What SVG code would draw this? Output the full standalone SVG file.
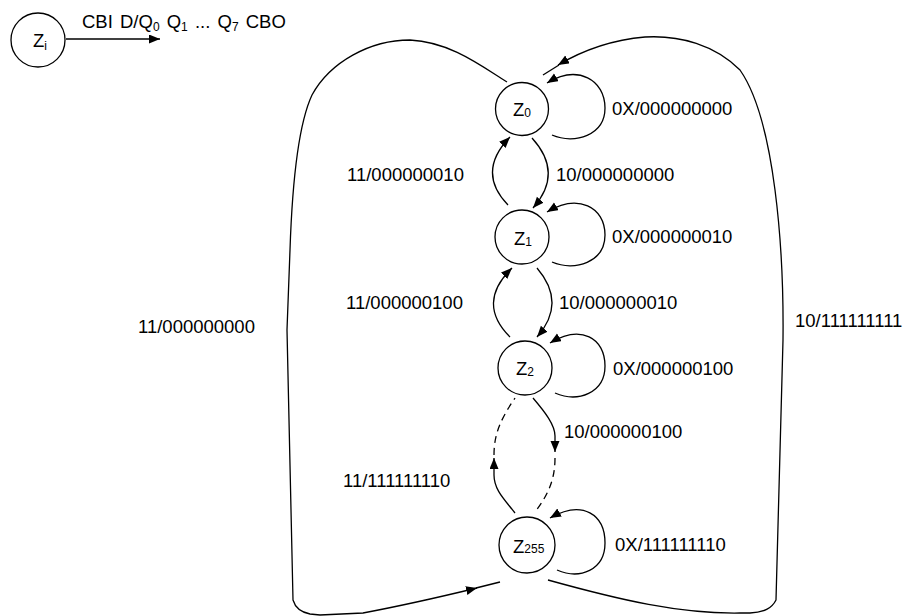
<svg xmlns="http://www.w3.org/2000/svg" width="915" height="616" viewBox="0 0 915 616">
<style>
.n{fill:#fff;stroke:#000;stroke-width:1.3}
.e{fill:none;stroke:#000;stroke-width:1.3}
.d{fill:none;stroke:#000;stroke-width:1.3;stroke-dasharray:7 5}
text{font-family:"Liberation Sans",Arial,sans-serif;font-size:18.5px;fill:#000}
.s{font-size:12px}
</style>
<defs>
<marker id="a" markerUnits="userSpaceOnUse" markerWidth="12" markerHeight="10" refX="11" refY="4.5" orient="auto">
<path d="M0,0 L11,4.5 L0,9 z" fill="#000"/>
</marker>
</defs>
<rect width="915" height="616" fill="#fff"/>
<g id="connectors">
<path class="e" d="M66 39 L160 39" marker-end="url(#a)"/>
<path class="e" d="M532 138 Q564 173 533 208" marker-end="url(#a)"/>
<path class="e" d="M508 205 Q476 172 510 137" marker-end="url(#a)"/>
<path class="e" d="M537 268 Q567 303 537 337" marker-end="url(#a)"/>
<path class="e" d="M510 337 Q476 303 512 268" marker-end="url(#a)"/>
<path class="e" d="M533 398 C545 412 555 425 555 436 L555 452" marker-end="url(#a)"/>
<path class="d" d="M555 458 C555 480 548 495 535 512"/>
<path class="e" d="M515 513 C505 500 494 490 494 475 L494 458" marker-end="url(#a)"/>
<path class="d" d="M494 455 C494 435 500 420 515 398"/>
<path class="e" transform="translate(522,109)" d="M30 26 C53 36 83 26 83 -1 C83 -29 56 -45 25 -26" marker-end="url(#a)"/>
<path class="e" transform="translate(522,237)" d="M30 25 C53 35 83 25 83 -2 C83 -30 56 -44 25 -25" marker-end="url(#a)"/>
<path class="e" transform="translate(525,368)" d="M30 25 C53 35 80 25 80 -2 C80 -30 56 -44 25 -25" marker-end="url(#a)"/>
<path class="e" transform="translate(527,545)" d="M30 25 C53 35 78 25 78 -2 C78 -30 56 -46 23 -27" marker-end="url(#a)"/>
<path class="e" d="M507 82 C480 65 450 42 410 40 C370 40 330 62 312 95 C298 125 292 190 290 250 L287 330 L293 600 C295 607 300 612 310 614 L320 615 L363 613 C400 606 440 597 477 588" marker-end="url(#a)"/>
<path class="e" d="M476 588 L500 582"/>
<path class="e" d="M548 580 C620 600 680 614 740 613 L750 613 C765 612 772 608 776 600 L783 340 C784 250 775 120 740 70 C715 45 680 35 645 37 C610 40 580 52 558 65" marker-end="url(#a)"/>
<path class="e" d="M559 65 L543 75"/>
</g>
<g id="Zi"><circle class="n" cx="38" cy="40" r="27"/><text x="33" y="47">Z<tspan class="s" dy="3">i</tspan></text></g>
<g id="Z0"><circle class="n" cx="522" cy="109" r="26.5"/><text x="513" y="116">Z<tspan class="s" dy="1">0</tspan></text></g>
<g id="Z1"><circle class="n" cx="522" cy="237" r="27"/><text x="514" y="245">Z<tspan class="s" dy="1">1</tspan></text></g>
<g id="Z2"><circle class="n" cx="525" cy="368" r="27"/><text x="516" y="375">Z<tspan class="s" dy="1">2</tspan></text></g>
<g id="Z255"><circle class="n" cx="527" cy="545" r="28"/><text x="513" y="553">Z<tspan class="s" dy="0">255</tspan></text></g>
<g id="labels">
<text x="82" y="28" word-spacing="2">CBI D/Q<tspan class="s" dy="3">0</tspan><tspan dy="-3"> Q</tspan><tspan class="s" dy="3">1</tspan><tspan dy="-3"> ... Q</tspan><tspan class="s" dy="3">7</tspan><tspan dy="-3"> CBO</tspan></text>
<text x="612" y="115">0X/000000000</text>
<text x="612" y="243">0X/000000010</text>
<text x="613" y="375">0X/000000100</text>
<text x="615" y="551">0X/111111110</text>
<text x="347" y="181">11/000000010</text>
<text x="556" y="181">10/000000000</text>
<text x="346" y="309">11/000000100</text>
<text x="559" y="309">10/000000010</text>
<text x="564" y="438">10/000000100</text>
<text x="343" y="487">11/111111110</text>
<text x="138" y="333">11/000000000</text>
<text x="795" y="327">10/111111111</text>
</g>
</svg>
